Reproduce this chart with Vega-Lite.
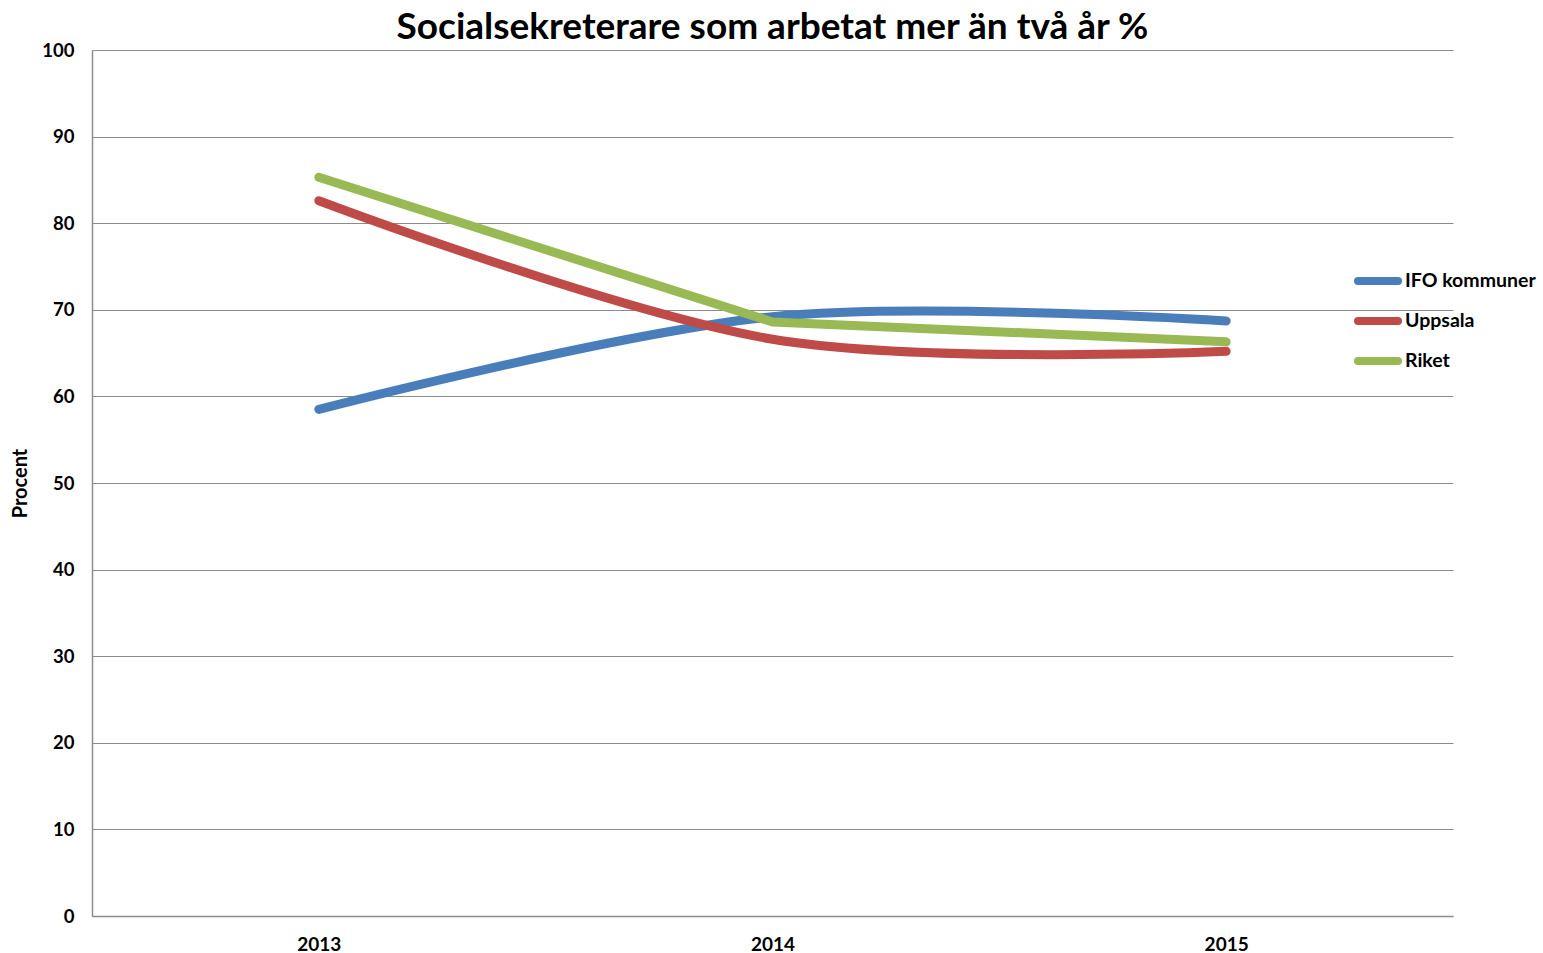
{
  "$schema": "https://vega.github.io/schema/vega-lite/v6.json",
  "width": 1361,
  "height": 866,
  "autosize": {"type": "none"},
  "padding": {"left": 92, "top": 50, "right": 90, "bottom": 37},
  "background": "white",
  "title": {
    "text": "Socialsekreterare som arbetat mer än två år %",
    "font": "Lato",
    "fontSize": 37,
    "fontWeight": "bold",
    "color": "#000000",
    "anchor": "middle",
    "offset": -6
  },
  "data": {
    "values": [
      {"year": "2013", "series": "IFO kommuner", "value": 58.5},
      {"year": "2014", "series": "IFO kommuner", "value": 69.2},
      {"year": "2015", "series": "IFO kommuner", "value": 68.7},
      {"year": "2013", "series": "Uppsala", "value": 82.6},
      {"year": "2014", "series": "Uppsala", "value": 66.6},
      {"year": "2015", "series": "Uppsala", "value": 65.2},
      {"year": "2013", "series": "Riket", "value": 85.3},
      {"year": "2014", "series": "Riket", "value": 68.6},
      {"year": "2015", "series": "Riket", "value": 66.3}
    ]
  },
  "encoding": {
    "x": {
      "field": "year",
      "type": "ordinal",
      "scale": {"type": "point", "padding": 0.5},
      "axis": {
        "title": null,
        "labelAngle": 0,
        "labelFont": "Lato",
        "labelFontSize": 19,
        "labelFontWeight": "bold",
        "labelColor": "#000000",
        "labelPadding": 19,
        "ticks": false,
        "domainColor": "#8c8c8c",
        "domainWidth": 1.5,
        "grid": false
      }
    },
    "y": {
      "field": "value",
      "type": "quantitative",
      "scale": {"domain": [0, 100], "nice": false},
      "axis": {
        "title": "Procent",
        "titleFont": "Lato",
        "titleFontSize": 20,
        "titleFontWeight": "bold",
        "titleColor": "#000000",
        "titlePadding": 11,
        "values": [0, 10, 20, 30, 40, 50, 60, 70, 80, 90, 100],
        "labelFont": "Lato",
        "labelFontSize": 18.5,
        "labelFontWeight": "bold",
        "labelColor": "#000000",
        "labelPadding": 18,
        "ticks": false,
        "domainColor": "#8c8c8c",
        "domainWidth": 1.5,
        "grid": true,
        "gridColor": "#8c8c8c",
        "gridWidth": 1
      }
    },
    "color": {
      "field": "series",
      "type": "nominal",
      "scale": {
        "domain": ["IFO kommuner", "Uppsala", "Riket"],
        "range": ["#4a7ebb", "#be4b48", "#98b954"]
      },
      "legend": {
        "title": null,
        "orient": "none",
        "legendX": 1262,
        "legendY": 211,
        "padding": 0,
        "symbolType": "stroke",
        "symbolSize": 1600,
        "symbolStrokeWidth": 8,
        "clipHeight": 40,
        "rowPadding": 0,
        "labelOffset": 3,
        "labelLimit": 300,
        "labelFont": "Lato",
        "labelFontSize": 19.5,
        "labelFontWeight": "bold",
        "labelColor": "#000000",
        "encode": {"symbols": {"update": {"strokeCap": {"value": "round"}}}}
      }
    }
  },
  "layer": [
    {
      "transform": [{"filter": "datum.series !== 'Riket'"}],
      "mark": {"type": "line", "interpolate": "cardinal", "strokeWidth": 9, "strokeCap": "round", "strokeJoin": "round"}
    },
    {
      "transform": [{"filter": "datum.series === 'Riket'"}],
      "mark": {"type": "line", "interpolate": "linear", "strokeWidth": 9, "strokeCap": "round", "strokeJoin": "round"}
    }
  ],
  "config": {
    "view": {"stroke": null}
  }
}
